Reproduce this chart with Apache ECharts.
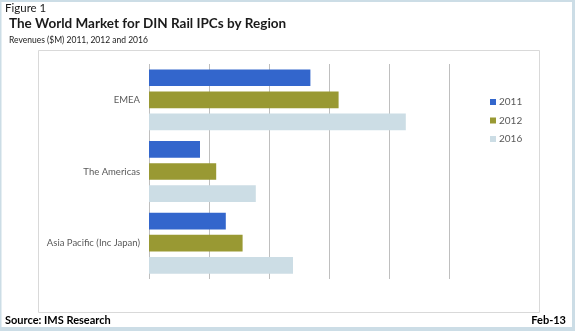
<!DOCTYPE html>
<html><head><meta charset="utf-8">
<script src="https://cdn.jsdelivr.net/npm/echarts@6/dist/echarts.min.js"></script>
<style>html,body{margin:0;padding:0;background:#fff}#c{width:575px;height:331px}</style>
</head><body><div id="c"></div>
<script>
const regions = ['EMEA', 'The Americas', 'Asia Pacific (Inc Japan)'];
const years = ['2011', '2012', '2016'];
const v2011 = [2.69, 0.85, 1.28];
const v2012 = [3.16, 1.12, 1.56];
const v2016 = [4.28, 1.78, 2.40];
const colors = ['#3366CC', '#999933', '#CCDDE5'];
const FONT = 'Lato';

const chart = echarts.init(document.getElementById('c'), null, {renderer: 'canvas'});
const mk = (name, data, i) => ({
  name, type: 'bar', data,
  barGap: '32%', barCategoryGap: '15%',
  itemStyle: {color: colors[i]},
  emphasis: {disabled: true},
  animation: false
});
chart.setOption({
  animation: false,
  backgroundColor: '#ffffff',
  grid: {left: 149, right: 126, top: 64, bottom: 52, containLabel: false},
  xAxis: {
    type: 'value', min: 0, max: 5, interval: 1,
    axisLabel: {show: false}, axisTick: {show: false}, axisLine: {show: false},
    splitLine: {show: true, lineStyle: {color: '#BFBFBF', width: 1}}
  },
  yAxis: {
    type: 'category', data: regions, inverse: true,
    axisLine: {show: false}, axisTick: {show: false},
    axisLabel: {color: '#595959', fontSize: 9.5, fontFamily: FONT, margin: 9}
  },
  legend: {
    orient: 'vertical', left: 485, top: 92, itemWidth: 6, itemHeight: 6, itemGap: 8.5,
    icon: 'rect',
    textStyle: {color: '#595959', fontSize: 10, fontFamily: FONT, padding: [0, 0, 0, -2]},
    data: years
  },
  graphic: [
    {type: 'rect', shape: {x: 38.5, y: 50.5, width: 501, height: 262}, style: {fill: null, stroke: '#D9D9D9', lineWidth: 1}, silent: true, z: -1},
    {type: 'rect', shape: {x: 0, y: 0, width: 575, height: 2}, style: {fill: '#CCDDE6'}, silent: true},
    {type: 'rect', shape: {x: 0, y: 0, width: 1.5, height: 331}, style: {fill: '#CCDDE6'}, silent: true},
    {type: 'rect', shape: {x: 572, y: 0, width: 3, height: 331}, style: {fill: '#CCDDE6'}, silent: true},
    {type: 'rect', shape: {x: 0, y: 327, width: 575, height: 4}, style: {fill: '#CCDDE6'}, silent: true},
    {type: 'text', left: 5, top: 2, style: {text: 'Figure 1', fontSize: 11.5, fontFamily: FONT, fill: '#1a1a1a'}},
    {type: 'text', left: 9, top: 17, style: {text: 'The World Market for DIN Rail IPCs by Region', fontSize: 13.5, fontWeight: 'bold', fontFamily: FONT, fill: '#1a1a1a'}},
    {type: 'text', left: 9, top: 36, style: {text: 'Revenues ($M) 2011, 2012 and 2016', fontSize: 8.5, fontFamily: FONT, fill: '#1a1a1a'}},
    {type: 'text', left: 5, top: 315, style: {text: 'Source: IMS Research', fontSize: 11, fontWeight: 'bold', fontFamily: FONT, fill: '#000'}},
    {type: 'text', right: 9, top: 315, style: {text: 'Feb-13', fontSize: 11, fontWeight: 'bold', fontFamily: FONT, fill: '#000'}}
  ],
  series: [mk(years[0], v2011, 0), mk(years[1], v2012, 1), mk(years[2], v2016, 2)]
});
</script></body></html>
